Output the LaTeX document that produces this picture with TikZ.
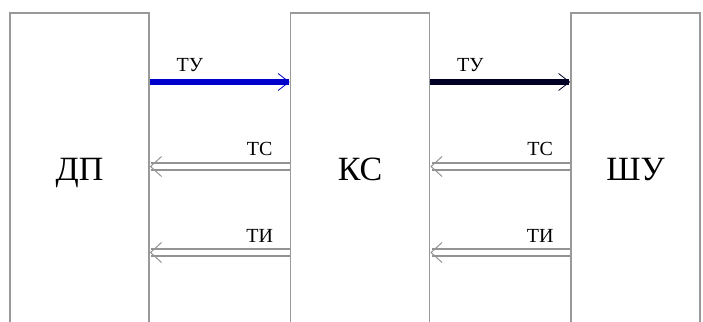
\documentclass[tikz,border=0pt]{standalone}
\usepackage{fontspec}
\setmainfont{Liberation Serif}
\usetikzlibrary{arrows.meta,positioning}

\begin{document}
\begin{tikzpicture}[x=1pt,y=1pt,
  blok/.style={draw=gray!80, line width=1.6pt, minimum width=139pt, minimum height=320pt, inner sep=0pt, text height=23pt, text depth=7pt, font=\fontsize{34}{34}\selectfont},
  komanda/.style={line width=5.5pt, -{Straight Barb[length=11pt,width=17pt,line width=0.8pt]}},
  signal/.style={draw=gray!85, double=white, double distance=4.5pt, line width=2pt, -{Straight Barb[length=11pt,width=20pt,line width=1pt]}},
  metka/.style={font=\fontsize{20}{20}\selectfont, text=black}]
\clip (0,0) rectangle (703,321);
\node [blok] (dp) at (79.5,148) {ДП};
\node [blok] (ks) at (360,148) {КС};
\node [blok, minimum width=129pt] (shu) at (635.5,148) {ШУ};
% TY
\draw[komanda, blue!80!black] (dp.east |- 0,239) coordinate (tu1) -- (ks.west |- tu1) node[metka, midway, above=4pt, xshift=-30pt] {ТУ};
\draw[komanda, black!85!blue] (ks.east |- 0,239) coordinate (tu2) -- (shu.west |- tu2) node[metka, midway, above=4pt, xshift=-30pt] {ТУ};
% TC
\draw[signal] (ks.west |- 0,154.5) coordinate (tc1) -- (dp.east |- tc1) node[metka, near start, above=6pt, xshift=5pt] {ТС};
\draw[signal] (shu.west |- 0,154.5) coordinate (tc2) -- (ks.east |- tc2) node[metka, near start, above=6pt, xshift=5pt] {ТС};
% TI
\draw[signal] (ks.west |- 0,68.5) coordinate (ti1) -- (dp.east |- ti1) node[metka, near start, above=6pt, xshift=5pt] {ТИ};
\draw[signal] (shu.west |- 0,68.5) coordinate (ti2) -- (ks.east |- ti2) node[metka, near start, above=6pt, xshift=5pt] {ТИ};
\end{tikzpicture}
\end{document}
